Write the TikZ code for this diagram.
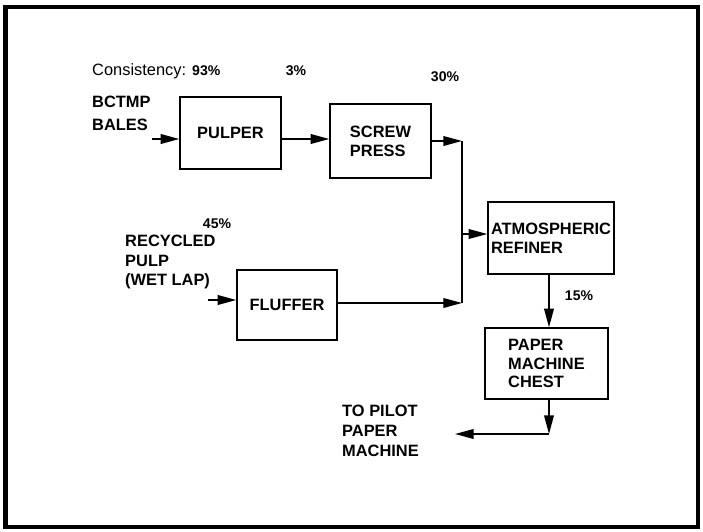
\documentclass[tikz,border=0pt]{standalone}
\usepackage{fontspec}
\setmainfont{Liberation Sans}
\usetikzlibrary{arrows.meta,positioning}

\tikzset{
  unit/.style={draw, line width=1.2pt, inner sep=0pt, align=left,
    font=\fontsize{14}{16}\selectfont\bfseries},
  flow/.style={line width=1.4pt, -{Triangle[length=5.6mm,width=2.9mm]}},
  lbl/.style={inner sep=0pt, align=left, font=\fontsize{14}{17}\selectfont\bfseries},
  pct/.style={inner sep=0pt, font=\fontsize{12}{14}\selectfont\bfseries},
}

\begin{document}
\begin{tikzpicture}[x=0.03cm, y=-0.03cm]
  \useasboundingbox (0,0) rectangle (703,531);
  \draw[line width=4.2pt] (5.5,7) rectangle (698,527);

  % process units
  \node[unit, minimum width=3.03cm, minimum height=2.16cm] (pulper) at (230.5,133) {PULPER};
  \node[unit, minimum width=3.03cm, minimum height=2.22cm] (press) at (380.5,141) {SCREW\\PRESS};
  \node[unit, minimum width=3.0cm, minimum height=2.1cm] (fluffer) at (287,305) {FLUFFER};
  \node[unit, minimum width=3.78cm, minimum height=2.16cm] (refiner) at (551,238) {ATMOSPHERIC\\REFINER};
  \node[unit, minimum width=3.69cm, minimum height=2.13cm] (chest) at (546.5,363.5) {PAPER\\MACHINE\\CHEST};

  % labels
  \node[anchor=west, inner sep=0pt, font=\fontsize{14}{16}\selectfont] (consist) at (92,71)
    {Consistency: \textbf{\fontsize{12}{14}\selectfont 93\%}};
  \node[pct] (pctpress) at (296,71) {3\%};
  \node[pct] (pctrefin) at (445,77) {30\%};
  \node[pct] (pctfluff) at (217,224) {45\%};
  \node[pct] (pctchest) at (579,296) {15\%};
  \node[lbl, anchor=west, font=\fontsize{14}{19.5}\selectfont\bfseries] (bales) at (92,113.5) {BCTMP\\BALES};
  \node[lbl, anchor=west] (wetlap) at (125,262) {RECYCLED\\PULP\\(WET LAP)};
  \node[lbl, anchor=west] (pilot) at (342,431) {TO PILOT\\PAPER\\MACHINE};

  % junction points
  \coordinate (balesin) at (152,139);
  \coordinate (lapin) at (208,300);
  \coordinate (jtop) at (462,141);
  \coordinate (jbot) at (462,303);
  \coordinate (turn) at (549,434);
  \coordinate (out) at (455,434);

  \draw[flow] (balesin) -- (balesin -| pulper.west);
  \draw[flow] (pulper.east |- balesin) -- (press.west |- balesin);
  \draw[flow] (press.east) -- (jtop);
  \draw[line width=1.4pt] (jtop) -- (jbot);
  \draw[flow] (lapin) -- (lapin -| fluffer.west);
  \draw[flow] (fluffer.east |- jbot) -- (jbot);
  \draw[flow] (jtop |- 0,234) -- (refiner.west |- 0,234);
  \draw[flow] (turn |- refiner.south) -- (turn |- chest.north);
  \draw[flow] (turn |- chest.south) -- (turn);
  \draw[flow] (turn) -- (out);
\end{tikzpicture}
\end{document}
